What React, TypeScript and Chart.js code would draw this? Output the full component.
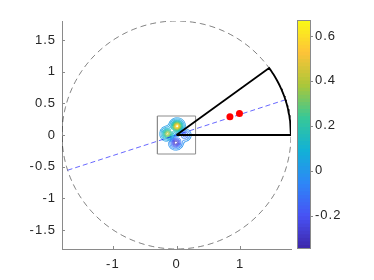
import React, { useEffect, useRef } from 'react';
import { Chart, registerables } from 'chart.js';
Chart.register(...registerables);

// ---- data ----
const xTicks = [-1, 0, 1];
const yTicks = [-1.5, -1, -0.5, 0, 0.5, 1, 1.5];
const axisLimit = 1.8;
const circleRadius = 1.8;
const sectorStartDeg = 0;
const sectorEndDeg = 36;
const lineAngleDeg = 18;
const dotX = [0.84, 0.99];
const dotY = [0.29, 0.34];
const boxHalf = 0.3;
// contour lobes
const blobX = [0.01, -0.14, -0.01, 0.13];
const blobY = [0.14, 0.02, -0.12, 0.0];
const blobAmp = [0.66, 0.42, -0.34, -0.18];
const blobSigma = [0.05, 0.05, 0.05, 0.048];
const contourLevels = [-0.3, -0.25, -0.2, -0.15, -0.1, -0.05, -0.02, 0.02, 0.05, 0.1, 0.15, 0.2, 0.25, 0.3, 0.35, 0.4, 0.45, 0.5, 0.55, 0.6];
// colorbar
const cbMin = -0.348;
const cbMax = 0.671;
const cbTicks = [-0.2, 0, 0.2, 0.4, 0.6];
const cbSteps = 64;
const parula = [
  [0.2422, 0.1504, 0.6603],
  [0.281, 0.3228, 0.9579],
  [0.1786, 0.5289, 0.9682],
  [0.0689, 0.6948, 0.8394],
  [0.2161, 0.7843, 0.5923],
  [0.672, 0.7793, 0.2227],
  [0.997, 0.7659, 0.2199],
  [0.9769, 0.9839, 0.0805],
];

// ---- styles ----
const FONT = { family: '"Liberation Sans", Arial, Helvetica, sans-serif', size: 13 };
const TEXT = '#262626';
const AXIS = '#8a8a8a';

function parulaColor(t: number) {
  const tt = Math.max(0, Math.min(1, t)) * (parula.length - 1);
  const i = Math.min(parula.length - 2, Math.floor(tt));
  const f = tt - i;
  const c = parula[i].map((v, k) => v + (parula[i + 1][k] - v) * f);
  return `rgb(${Math.round(c[0] * 255)},${Math.round(c[1] * 255)},${Math.round(c[2] * 255)})`;
}

function fieldAt(x: number, y: number) {
  let s = 0;
  for (let i = 0; i < blobX.length; i++) {
    const dx = x - blobX[i];
    const dy = y - blobY[i];
    s += blobAmp[i] * Math.exp(-(dx * dx + dy * dy) / (2 * blobSigma[i] * blobSigma[i]));
  }
  return s;
}

function contourPoints(level: number) {
  const n = 90;
  const lo = -boxHalf;
  const step = (2 * boxHalf) / n;
  const v: number[][] = [];
  for (let i = 0; i <= n; i++) {
    v.push([]);
    for (let j = 0; j <= n; j++) v[i].push(fieldAt(lo + i * step, lo + j * step));
  }
  const pts: any[] = [];
  for (let i = 0; i < n; i++) {
    for (let j = 0; j < n; j++) {
      const x0 = lo + i * step, x1 = x0 + step, y0 = lo + j * step, y1 = y0 + step;
      const corners = [
        [x0, y0, v[i][j]],
        [x1, y0, v[i + 1][j]],
        [x1, y1, v[i + 1][j + 1]],
        [x0, y1, v[i][j + 1]],
      ];
      const cr: any[] = [];
      for (let e = 0; e < 4; e++) {
        const p = corners[e];
        const q = corners[(e + 1) % 4];
        if ((p[2] >= level) !== (q[2] >= level)) {
          const t = (level - p[2]) / (q[2] - p[2]);
          cr.push({ x: p[0] + (q[0] - p[0]) * t, y: p[1] + (q[1] - p[1]) * t });
        }
      }
      if (cr.length === 2) pts.push(cr[0], cr[1], { x: cr[1].x, y: null });
      else if (cr.length === 4) pts.push(cr[0], cr[1], { x: cr[1].x, y: null }, cr[2], cr[3], { x: cr[3].x, y: null });
    }
  }
  return pts;
}

function arcPoints(r: number, fromDeg: number, toDeg: number, stepDeg: number) {
  const pts: any[] = [];
  const dir = toDeg >= fromDeg ? 1 : -1;
  for (let a = fromDeg; dir > 0 ? a <= toDeg + 1e-9 : a >= toDeg - 1e-9; a += dir * stepDeg) {
    const rad = (a * Math.PI) / 180;
    pts.push({ x: r * Math.cos(rad), y: r * Math.sin(rad) });
  }
  return pts;
}

const mainTicksPlugin = {
  id: 'mainTicks',
  beforeDraw(chart: any) {
    (chart.ctx as any).letterSpacing = '1px';
  },
  afterDraw(chart: any) {
    const { ctx, chartArea, scales } = chart;
    ctx.save();
    ctx.strokeStyle = AXIS;
    ctx.lineWidth = 1;
    xTicks.forEach((v) => {
      const px = Math.round(scales.x.getPixelForValue(v)) + 0.5;
      ctx.beginPath();
      ctx.moveTo(px, chartArea.bottom);
      ctx.lineTo(px, chartArea.bottom - 3);
      ctx.stroke();
    });
    yTicks.forEach((v) => {
      const py = Math.round(scales.y.getPixelForValue(v)) + 0.5;
      ctx.beginPath();
      ctx.moveTo(chartArea.left, py);
      ctx.lineTo(chartArea.left + 3, py);
      ctx.stroke();
    });
    ctx.restore();
  },
};

const cbPlugin = {
  id: 'cbFrame',
  beforeDraw(chart: any) {
    (chart.ctx as any).letterSpacing = '1px';
  },
  afterDraw(chart: any) {
    const { ctx, chartArea, scales } = chart;
    ctx.save();
    ctx.strokeStyle = AXIS;
    ctx.lineWidth = 1;
    ctx.strokeRect(chartArea.left + 0.5, chartArea.top + 0.5, chartArea.right - chartArea.left - 1, chartArea.bottom - chartArea.top - 1);
    cbTicks.forEach((v) => {
      const py = Math.round(scales.y.getPixelForValue(v)) + 0.5;
      ctx.beginPath();
      ctx.moveTo(chartArea.right, py);
      ctx.lineTo(chartArea.right + 2, py);
      ctx.stroke();
    });
    ctx.restore();
  },
};

export default function App() {
  const mainRef = useRef<HTMLCanvasElement>(null);
  const cbRef = useRef<HTMLCanvasElement>(null);

  useEffect(() => {
    const circle = arcPoints(circleRadius, 0, 360, 2);
    const sectorEnd = arcPoints(circleRadius, sectorEndDeg, sectorEndDeg, 1)[0];
    const sector = [{ x: 0, y: 0 }, sectorEnd, ...arcPoints(circleRadius, sectorEndDeg, sectorStartDeg, 1), { x: 0, y: 0 }];
    const la = (lineAngleDeg * Math.PI) / 180;
    const blueLine = [
      { x: -circleRadius * Math.cos(la), y: -circleRadius * Math.sin(la) },
      { x: circleRadius * Math.cos(la), y: circleRadius * Math.sin(la) },
    ];
    const box = [
      { x: -boxHalf, y: -boxHalf },
      { x: boxHalf, y: -boxHalf },
      { x: boxHalf, y: boxHalf },
      { x: -boxHalf, y: boxHalf },
      { x: -boxHalf, y: -boxHalf },
    ];
    const contourSets = contourLevels.map((L) => ({
      data: contourPoints(L),
      showLine: true,
      spanGaps: false,
      pointRadius: 0,
      borderWidth: 0.8,
      borderColor: parulaColor((L - cbMin) / (cbMax - cbMin)),
    }));

    const main = new Chart(mainRef.current!, {
      type: 'scatter',
      data: {
        datasets: [
          {
            data: dotX.map((x, i) => ({ x, y: dotY[i] })),
            pointRadius: 3.5,
            pointBackgroundColor: '#ff0000',
            pointBorderColor: '#ff0000',
            pointBorderWidth: 0,
            showLine: false,
          } as any,
          { data: sector, showLine: true, pointRadius: 0, borderColor: '#000000', borderWidth: 1.8 },
          { data: blueLine, showLine: true, pointRadius: 0, borderColor: 'rgba(0,0,255,0.75)', borderWidth: 0.8, borderDash: [5, 3] },
          { data: box, showLine: true, pointRadius: 0, borderColor: '#8c8c8c', borderWidth: 1 },
          ...contourSets,
          { data: circle, showLine: true, pointRadius: 0, borderColor: 'rgba(0,0,0,0.62)', borderWidth: 0.8, borderDash: [6, 4] },
        ],
      },
      options: {
        animation: false,
        responsive: false,
        maintainAspectRatio: false,
        devicePixelRatio: 1,
        events: [],
        layout: { padding: { left: 0, top: 21, right: 83, bottom: 0 } },
        plugins: { legend: { display: false }, tooltip: { enabled: false } },
        scales: {
          x: {
            type: 'linear',
            min: -axisLimit,
            max: axisLimit,
            afterBuildTicks: (s: any) => { s.ticks = xTicks.map((v) => ({ value: v })); },
            afterFit: (s: any) => { s.height = 31; },
            grid: { display: false, drawTicks: false },
            border: { display: true, color: AXIS, width: 1 },
            ticks: { font: FONT, color: TEXT, padding: 8, maxRotation: 0, callback: (v: any) => String(v) },
          },
          y: {
            type: 'linear',
            min: -axisLimit,
            max: axisLimit,
            afterBuildTicks: (s: any) => { s.ticks = yTicks.map((v) => ({ value: v })); },
            afterFit: (s: any) => { s.width = 62; },
            grid: { display: false, drawTicks: false },
            border: { display: true, color: AXIS, width: 1 },
            ticks: { font: FONT, color: TEXT, padding: 6, callback: (v: any) => String(v) },
          },
        },
      } as any,
      plugins: [mainTicksPlugin],
    });

    const cbDatasets = [] as any[];
    for (let k = 0; k < cbSteps; k++) {
      const hi = cbMin + ((k + 1) / cbSteps) * (cbMax - cbMin);
      cbDatasets.push({
        data: [[cbMin, hi]],
        backgroundColor: parulaColor((k + 0.5) / cbSteps),
        borderWidth: 0,
        grouped: false,
        barPercentage: 1,
        categoryPercentage: 1,
      });
    }
    const cb = new Chart(cbRef.current!, {
      type: 'bar',
      data: { labels: ['c'], datasets: cbDatasets },
      options: {
        animation: false,
        responsive: false,
        maintainAspectRatio: false,
        devicePixelRatio: 1,
        events: [],
        layout: { padding: { left: 297, top: 20, right: 0, bottom: 31 } },
        plugins: { legend: { display: false }, tooltip: { enabled: false } },
        scales: {
          x: { display: false },
          y: {
            position: 'right',
            min: cbMin,
            max: cbMax,
            afterBuildTicks: (s: any) => { s.ticks = cbTicks.map((v) => ({ value: v })); },
            afterFit: (s: any) => { s.width = 63; },
            grid: { display: false, drawTicks: false },
            border: { display: false },
            ticks: { font: FONT, color: TEXT, padding: 4, callback: (v: any) => String(v) },
          },
        },
      } as any,
      plugins: [cbPlugin],
    });

    return () => {
      main.destroy();
      cb.destroy();
    };
  }, []);

  return (
    <div style={{ position: 'absolute', left: 0, top: 0, width: 374, height: 280, background: '#ffffff' }}>
      <canvas ref={mainRef} width={374} height={280} style={{ position: 'absolute', left: 0, top: 0, width: 374, height: 280 }} />
      <canvas ref={cbRef} width={374} height={280} style={{ position: 'absolute', left: 0, top: 0, width: 374, height: 280 }} />
    </div>
  );
}
